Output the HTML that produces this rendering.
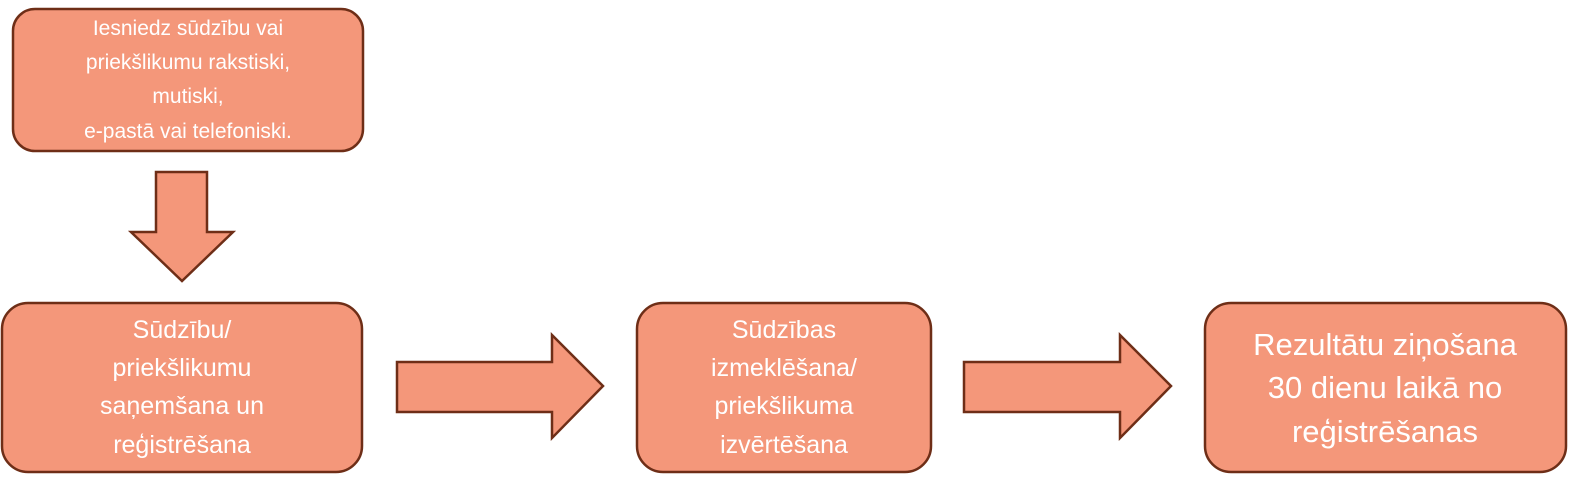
<!DOCTYPE html>
<html><head><meta charset="utf-8"><style>
html,body{margin:0;padding:0;background:#fff;}
svg{display:block;}
text{font-family:"Liberation Sans",sans-serif;fill:#fff;text-anchor:middle;}
</style></head><body>
<svg width="1579" height="490" viewBox="0 0 1579 490" xmlns="http://www.w3.org/2000/svg">
<g fill="#F4977A" stroke="#6E2E17" stroke-width="2.5">
<rect x="13" y="9" width="350" height="142" rx="22"/>
<polygon points="156,172 207,172 207,232 233,232 182,281 131,232 156,232"/>
<rect x="2" y="303" width="360" height="169" rx="26"/>
<polygon points="397,362 552,362 552,335 603,386 552,438 552,412 397,412"/>
<rect x="637" y="303" width="294" height="169" rx="26"/>
<polygon points="964,362 1120,362 1120,335 1171,386 1120,438 1120,412 964,412"/>
<rect x="1205" y="303" width="361" height="169" rx="26"/>
</g>
<g font-size="21">
<text x="188" y="35">Iesniedz sūdzību vai</text>
<text x="188" y="69">priekšlikumu rakstiski,</text>
<text x="188" y="103">mutiski,</text>
<text x="188" y="138">e-pastā vai telefoniski.</text>
</g>
<g font-size="25">
<text x="182" y="338">Sūdzību/</text>
<text x="182" y="376">priekšlikumu</text>
<text x="182" y="414">saņemšana un</text>
<text x="182" y="453">reģistrēšana</text>
<text x="784" y="338">Sūdzības</text>
<text x="784" y="376">izmeklēšana/</text>
<text x="784" y="414">priekšlikuma</text>
<text x="784" y="453">izvērtēšana</text>
</g>
<g font-size="31">
<text x="1385" y="355">Rezultātu ziņošana</text>
<text x="1385" y="398">30 dienu laikā no</text>
<text x="1385" y="442">reģistrēšanas</text>
</g>
</svg>
</body></html>
